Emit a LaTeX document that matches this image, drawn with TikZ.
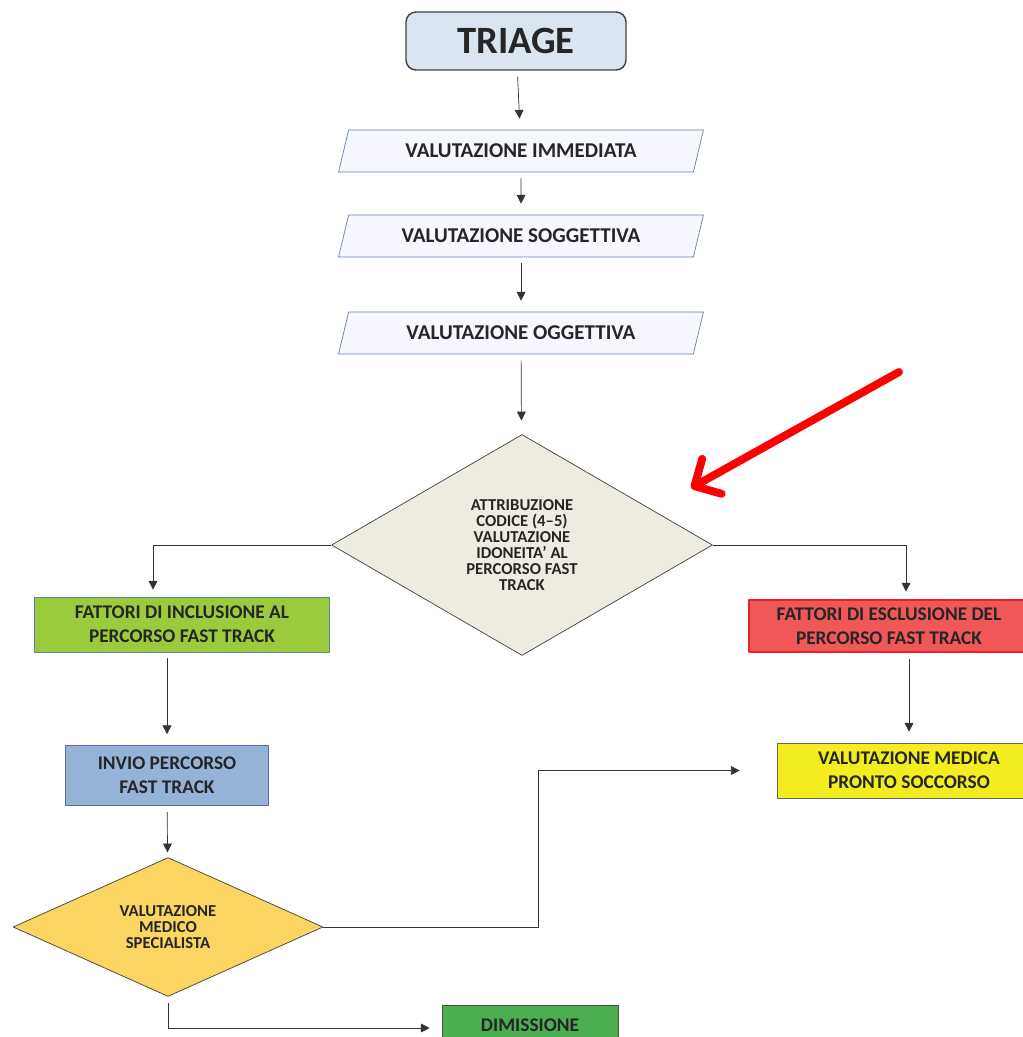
\documentclass[tikz,border=0pt]{standalone}
\usepackage{fontspec}
\setmainfont{Carlito}
\usetikzlibrary{shapes.geometric,arrows.meta}
\definecolor{celeste}{HTML}{DBE5F1}
\definecolor{bordoblu}{HTML}{5F82A8}
\definecolor{grigio}{HTML}{EEECE1}
\definecolor{verde}{HTML}{9BCB3C}
\definecolor{rosso}{HTML}{F05757}
\definecolor{bordorosso}{HTML}{E3242B}
\definecolor{azzurro}{HTML}{95B3D7}
\definecolor{giallo}{HTML}{F3EC1F}
\definecolor{arancio}{HTML}{FCD462}
\definecolor{verdescuro}{HTML}{4BAE4F}
\definecolor{testo}{HTML}{262626}
\begin{document}
\begin{tikzpicture}[x=0.02cm, y=-0.02cm, line join=round, >={Triangle[length=5pt,width=5pt]},
	flow/.style={->, draw=black!80, thin, shorten <=0.12cm, shorten >=0.22cm},
	box/.style={rectangle, align=center, text=testo, inner sep=2pt,
		font=\fontsize{11}{13.5}\selectfont\bfseries},
	para/.style={trapezium, trapezium left angle=60, trapezium right angle=120,
		trapezium stretches body=true, draw=bordoblu, fill=blue!3, text=testo,
		minimum width=7.3cm, minimum height=0.84cm, inner sep=1pt,
		font=\fontsize{12}{13}\selectfont\bfseries},
	scelta/.style={diamond, draw=black!75, align=center, text=testo, inner sep=0pt}]
	\useasboundingbox (0,0) rectangle (1023,1037);
	%Inizio
	\node[box, draw=black!75, thick, fill=celeste, rounded corners=0.2cm,
		minimum width=4.4cm, minimum height=1.16cm,
		font=\fontsize{22}{24}\selectfont\bfseries] (triage) at (516,41) {TRIAGE};
	%Valutazioni
	\foreach \n/\y/\testo in {1/151/VALUTAZIONE IMMEDIATA,2/236/VALUTAZIONE SOGGETTIVA,3/333/VALUTAZIONE OGGETTIVA}
	\node[para] (p\n) at (521,\y) {\testo};
	%Codice
	\node[scelta, fill=grigio, minimum width=7.62cm, minimum height=4.42cm,
		font=\fontsize{9.5}{9.1}\selectfont\bfseries] (d1) at (522,545)
		{ATTRIBUZIONE\\CODICE (4–5)\\VALUTAZIONE\\IDONEITA' AL\\PERCORSO FAST\\TRACK};
	\node[box, draw=bordoblu, fill=verde, minimum width=5.9cm, minimum height=1.1cm] (inc) at (182,624.5)
		{FATTORI DI INCLUSIONE AL\\PERCORSO FAST TRACK};
	\node[box, draw=bordorosso, line width=1.6pt, fill=rosso, minimum width=5.6cm, minimum height=1.04cm] (esc) at (889,626)
		{FATTORI DI ESCLUSIONE DEL\\PERCORSO FAST TRACK};
	\node[box, draw=black!60!blue!60, fill=azzurro, minimum width=4.06cm, minimum height=1.2cm] (inv) at (167,775.5)
		{INVIO PERCORSO\\FAST TRACK};
	\node[box, draw=black!60, fill=giallo, minimum width=5.28cm, minimum height=1.1cm] (pso) at (909,770.5)
		{VALUTAZIONE MEDICA\\PRONTO SOCCORSO};
	\node[scelta, fill=arancio, minimum width=6.2cm, minimum height=2.5cm,
		font=\fontsize{9.5}{8.9}\selectfont\bfseries] (d2) at (168,927)
		{VALUTAZIONE\\MEDICO\\SPECIALISTA};
	\node[box, draw=black!70, fill=verdescuro, minimum width=3.52cm, minimum height=0.8cm] (dim) at (530,1025)
		{DIMISSIONE};
	%Frecce
	\draw[flow] (triage) -- (p1);
	\foreach \a/\b in {p1/p2,p2/p3}
	\draw[flow] (\a) -- (\b);
	\draw[flow, shorten >=0.28cm] (p3) -- (d1);
	\draw[flow, shorten <=0pt, shorten >=0.14cm] (d1.west) -| ([xshift=-0.58cm]inc.north);
	\draw[flow, shorten <=0pt, shorten >=0.14cm] (d1.east) -| ([xshift=0.34cm]esc.north);
	\draw[flow] (inv.north |- inc.south) -- (inv.north);
	\draw[flow] (pso.north |- esc.south) -- (pso.north);
	\draw[flow, shorten >=0.1cm] (inv) -- (d2);
	\draw[flow, shorten <=0pt, shorten >=0.74cm] (d2.east) -- ++(215,0) |- (pso.west);
	\draw[flow, shorten >=0.24cm] (d2.south) |- ([yshift=-0.06cm]dim.west);
	%Freccia rossa
	\coordinate (fA) at (899,372);
	\coordinate (fB) at (691,488);
	\draw[red, line width=4.5pt, line cap=round, -{Straight Barb[length=0.4cm,width=0.8cm,round]}] (fA) -- (fB);
\end{tikzpicture}
\end{document}
